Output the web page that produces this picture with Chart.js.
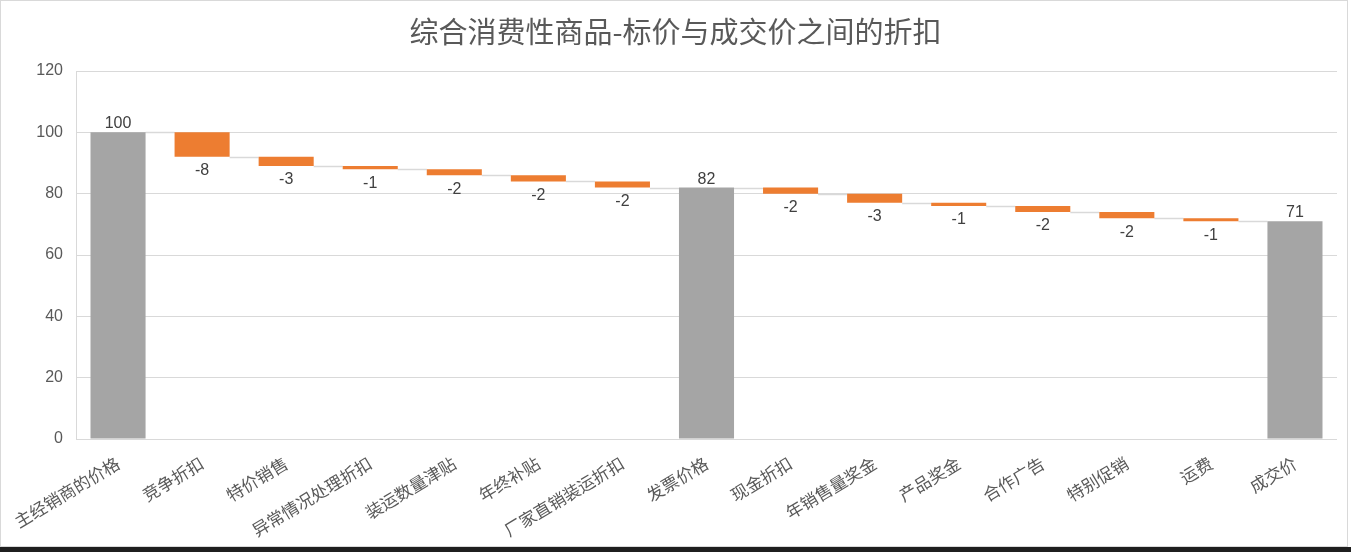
<!DOCTYPE html>
<html>
<head>
<meta charset="utf-8">
<script src="https://cdn.jsdelivr.net/npm/chart.js@4.4.1/dist/chart.umd.min.js"></script>
<style>
  html, body { margin: 0; padding: 0; background: #ffffff; }
  #wrap { position: relative; width: 1351px; height: 552px; overflow: hidden; background: #fff; }
  #c { position: absolute; left: 0; top: 0; }
  #frame { position: absolute; left: 0; top: 0; width: 1346px; height: 545px; border: 1px solid #d9d9d9; pointer-events: none; }
  #strip { position: absolute; left: 0; top: 547px; width: 1351px; height: 5px; background: #1f1f1f; }
</style>
</head>
<body>
<div id="wrap">
  <canvas id="c" width="1351" height="552"></canvas>
  <div id="frame"></div>
  <div id="strip"></div>
</div>
<script>
// ---- data ----
const titleText = '综合消费性商品-标价与成交价之间的折扣';
const categories = ['主经销商的价格', '竞争折扣', '特价销售', '异常情况处理折扣', '装运数量津贴', '年终补贴', '厂家直销装运折扣', '发票价格', '现金折扣', '年销售量奖金', '产品奖金', '合作广告', '特别促销', '运费', '成交价'];
const values = [100, -8, -3, -1, -2, -2, -2, 82, -2, -3, -1, -2, -2, -1, 71];
const isTotal = [true, false, false, false, false, false, false, true, false, false, false, false, false, false, true];
const yTickMin = 0;
const yTickMax = 120;
const yTickStep = 20;

// ---- build floating bars from the data ----
const floating = [];
const levels = [];
let running = 0;
values.forEach((v, i) => {
  if (isTotal[i]) {
    floating.push([0, v]);
    running = v;
  } else {
    floating.push([running, running + v]);
    running += v;
  }
  levels.push(running);
});

const GRAY = '#a5a5a5';
const ORANGE = '#ed7d31';
const colors = values.map((v, i) => isTotal[i] ? GRAY : ORANGE);

const connectorPlugin = {
  id: 'connectors',
  beforeDatasetsDraw(chart) {
    const meta = chart.getDatasetMeta(0);
    const y = chart.scales.y;
    const ctx = chart.ctx;
    ctx.save();
    ctx.strokeStyle = '#d9d9d9';
    ctx.lineWidth = 1.5;
    for (let i = 0; i < meta.data.length - 1; i++) {
      const a = meta.data[i], b = meta.data[i + 1];
      const py = Math.round(y.getPixelForValue(levels[i])) + 0.5;
      ctx.beginPath();
      ctx.moveTo(a.x + a.width / 2, py);
      ctx.lineTo(b.x - b.width / 2, py);
      ctx.stroke();
    }
    ctx.restore();
  }
};

const labelPlugin = {
  id: 'valueLabels',
  afterDatasetsDraw(chart) {
    const meta = chart.getDatasetMeta(0);
    const ctx = chart.ctx;
    ctx.save();
    ctx.font = '16px "Liberation Sans", Arial, sans-serif';
    ctx.fillStyle = '#404040';
    ctx.textAlign = 'center';
    meta.data.forEach((bar, i) => {
      const top = Math.min(bar.y, bar.base);
      const bottom = Math.max(bar.y, bar.base);
      const txt = String(values[i]);
      if (values[i] >= 0) {
        ctx.textBaseline = 'alphabetic';
        ctx.fillText(txt, bar.x, top - 4);
      } else {
        ctx.textBaseline = 'top';
        ctx.fillText(txt, bar.x, bottom + 6);
      }
    });
    ctx.restore();
  }
};

new Chart(document.getElementById('c'), {
  type: 'bar',
  data: {
    labels: categories,
    datasets: [{
      data: floating,
      backgroundColor: colors,
      borderWidth: 0,
      categoryPercentage: 1.0,
      barPercentage: 0.655
    }]
  },
  options: {
    responsive: false,
    animation: false,
    devicePixelRatio: 1,
    layout: { padding: { left: 0, right: 0, top: 0, bottom: 0 } },
    plugins: {
      legend: { display: false },
      tooltip: { enabled: false },
      title: {
        display: true,
        text: titleText,
        color: '#595959',
        font: { family: '"Noto Sans CJK SC", sans-serif', size: 29, weight: 'normal' },
        padding: { top: 15, bottom: 21.2 }
      }
    },
    scales: {
      x: {
        grid: { display: false },
        border: { display: false },
        ticks: {
          autoSkip: false,
          minRotation: 31,
          maxRotation: 31,
          color: '#595959',
          padding: 6,
          font: { family: '"Noto Sans CJK SC", sans-serif', size: 17 }
        },
        afterFit(scale) { scale.height = 113; }
      },
      y: {
        min: yTickMin,
        max: yTickMax,
        grid: { color: '#d9d9d9', lineWidth: 1, drawTicks: false },
        border: { display: true, color: '#d9d9d9' },
        ticks: {
          stepSize: yTickStep,
          color: '#595959',
          padding: 13,
          font: { family: '"Liberation Sans", Arial, sans-serif', size: 16 }
        },
        afterFit(scale) { scale.width = 76; }
      },
      yRightSpace: {
        type: 'linear',
        position: 'right',
        display: true,
        grid: { display: false },
        border: { display: false },
        ticks: { display: false },
        afterFit(scale) { scale.width = 14; }
      }
    }
  },
  plugins: [connectorPlugin, labelPlugin]
});
</script>
</body>
</html>
